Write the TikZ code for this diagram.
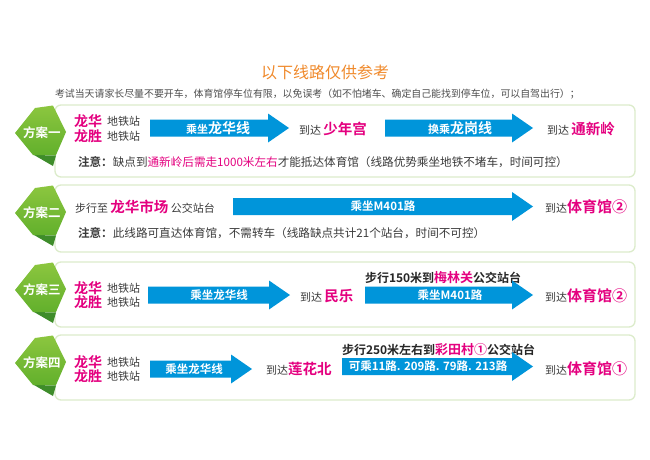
\documentclass[tikz,border=0pt]{standalone}
\usepackage{fontspec}
\setmainfont{Noto Sans CJK SC}[BoldFont={Noto Sans CJK SC Bold}]
\definecolor{mag}{HTML}{E4007F}
\definecolor{blu}{HTML}{0095DA}
\definecolor{org}{HTML}{F08A2C}
\definecolor{gtx}{HTML}{3A3A3A}
\definecolor{bdr}{HTML}{DCECCB}
\definecolor{gtop}{HTML}{8CC63F}
\definecolor{gbot}{HTML}{62B02C}
\definecolor{gdk}{HTML}{3E8C2A}
\newcommand\fz[1]{\fontsize{#1}{#1}\selectfont}
\newcommand\mg[2]{{\bfseries\color{mag}\fz{#1}#2}}
% arrow: x1, x2, yc
\newcommand\blarrow[3]{\fill[blu] (#1,#3-8.5) -- (#2-21,#3-8.5) -- (#2-21,#3-14.5) -- (#2,#3) -- (#2-21,#3+14.5) -- (#2-21,#3+8.5) -- (#1,#3+8.5) -- cycle;}
% badge: yshift, name, text
\newcommand\badge[3]{%
\begin{scope}[shift={(0,#1)}]
\fill[gdk] (34,50) -- (56,50.5) -- (53,61) -- cycle;
\shade[top color=gtop,bottom color=gbot] (15,28) -- (35,3) -- (53,0.5) -- (66,27) -- (56,50) -- (33,50) -- cycle;
\node[badgetext] (#2) at (42,28) {#3};
\end{scope}}
\begin{document}
\begin{tikzpicture}[x=1pt,y=-1pt,
  every node/.style={inner sep=0pt,outer sep=0pt},
  rowbox/.style={draw=bdr,line width=1.3pt,rounded corners=6pt,fill=white},
  badgetext/.style={text=white,font=\fz{12.5}\bfseries},
  arrtext/.style={text=white,font=\fz{11.5}\bfseries},
  station/.style={anchor=west,text=mag,font=\fz{14}\bfseries},
  sub/.style={anchor=west,text=gtx,font=\fz{11}},
  note/.style={anchor=west,text=gtx,font=\fz{11.6}},
  bold/.style={anchor=west,text=black!85,font=\fz{12}\bfseries}]
\useasboundingbox[fill=white] (0,0) rectangle (650,460);

\node[text=org,font=\fz{16}] (title) at (325,72) {以下线路仅供参考};
\node[anchor=west,text=gtx!90,font=\fz{9.9}] (subt) at (55,94) {考试当天请家长尽量不要开车，体育馆停车位有限，以免误考（如不怕堵车、确定自己能找到停车位，可以自驾出行）；};

% boxes
\draw[rowbox] (55,105) rectangle (635,177);
\draw[rowbox] (55,185) rectangle (635,252);
\draw[rowbox] (55,262) rectangle (635,327);
\draw[rowbox] (55,335) rectangle (635,400);

% badges
\badge{105}{b1}{方案一}
\badge{185}{b2}{方案二}
\badge{262}{b3}{方案三}
\badge{335}{b4}{方案四}

% ---------- row 1 ----------
\node[station] (r1a) at (74,121) {龙华};
\node[sub] (r1b) at (107,121) {地铁站};
\node[station] (r1c) at (74,136) {龙胜};
\node[sub] (r1d) at (107,136) {地铁站};
\blarrow{150}{289}{128}
\node[text=white,font=\bfseries] (r1t1) at (218,128) {\fz{11}乘坐\fz{14}龙华线};
\node[sub] (r1e) at (299,129) {到达 \mg{14.5}{少年宫}};
\blarrow{385}{533}{128}
\node[text=white,font=\bfseries] (r1t2) at (460,128) {\fz{11}换乘\fz{14}龙岗线};
\node[sub] (r1f) at (547,129) {到达 \mg{14.5}{通新岭}};
\node[note] (r1n) at (78,162) {\textbf{注意：}缺点到{\color{mag}通新岭后需走1000米左右}才能抵达体育馆（线路优势乘坐地铁不堵车，时间可控）};

% ---------- row 2 ----------
\node[sub] (r2a) at (75,207) {步行至 \mg{14.5}{龙华市场} 公交站台};
\blarrow{233}{533}{206.5}
\node[arrtext] (r2t) at (383,206.5) {乘坐M401路};
\node[sub] (r2b) at (545,207) {到达\mg{15}{体育馆②}};
\node[note] (r2n) at (78,233) {\textbf{注意：}此线路可直达体育馆，不需转车（线路缺点共计21个站台，时间不可控）};

% ---------- row 3 ----------
\node[station] (r3a) at (74,288) {龙华};
\node[sub] (r3b) at (107,288) {地铁站};
\node[station] (r3c) at (74,302) {龙胜};
\node[sub] (r3d) at (107,302) {地铁站};
\blarrow{148}{290}{295}
\node[arrtext] (r3t1) at (219,295) {乘坐龙华线};
\node[sub] (r3e) at (300,296) {到达 \mg{14.5}{民乐}};
\node[bold] (r3w) at (365,278) {步行150米到\mg{13}{梅林关}公交站台};
\blarrow{365}{533}{295}
\node[arrtext] (r3t2) at (450,295) {乘坐M401路};
\node[sub] (r3f) at (545,296) {到达\mg{15}{体育馆②}};

% ---------- row 4 ----------
\node[station] (r4a) at (74,362) {龙华};
\node[sub] (r4b) at (107,362) {地铁站};
\node[station] (r4c) at (74,376) {龙胜};
\node[sub] (r4d) at (107,376) {地铁站};
\blarrow{150}{252}{369}
\node[arrtext] (r4t1) at (194,369) {乘坐龙华线};
\node[sub] (r4e) at (266,369) {到达\mg{14.5}{莲花北}};
\node[bold] (r4w) at (342,350) {步行250米左右到\mg{13}{彩田村①}公交站台};
\blarrow{342}{533}{366.5}
\node[arrtext] (r4t2) at (428,366.5) {可乘11路. 209路. 79路. 213路};
\node[sub] (r4f) at (545,369) {到达\mg{15}{体育馆①}};
\end{tikzpicture}
\end{document}
